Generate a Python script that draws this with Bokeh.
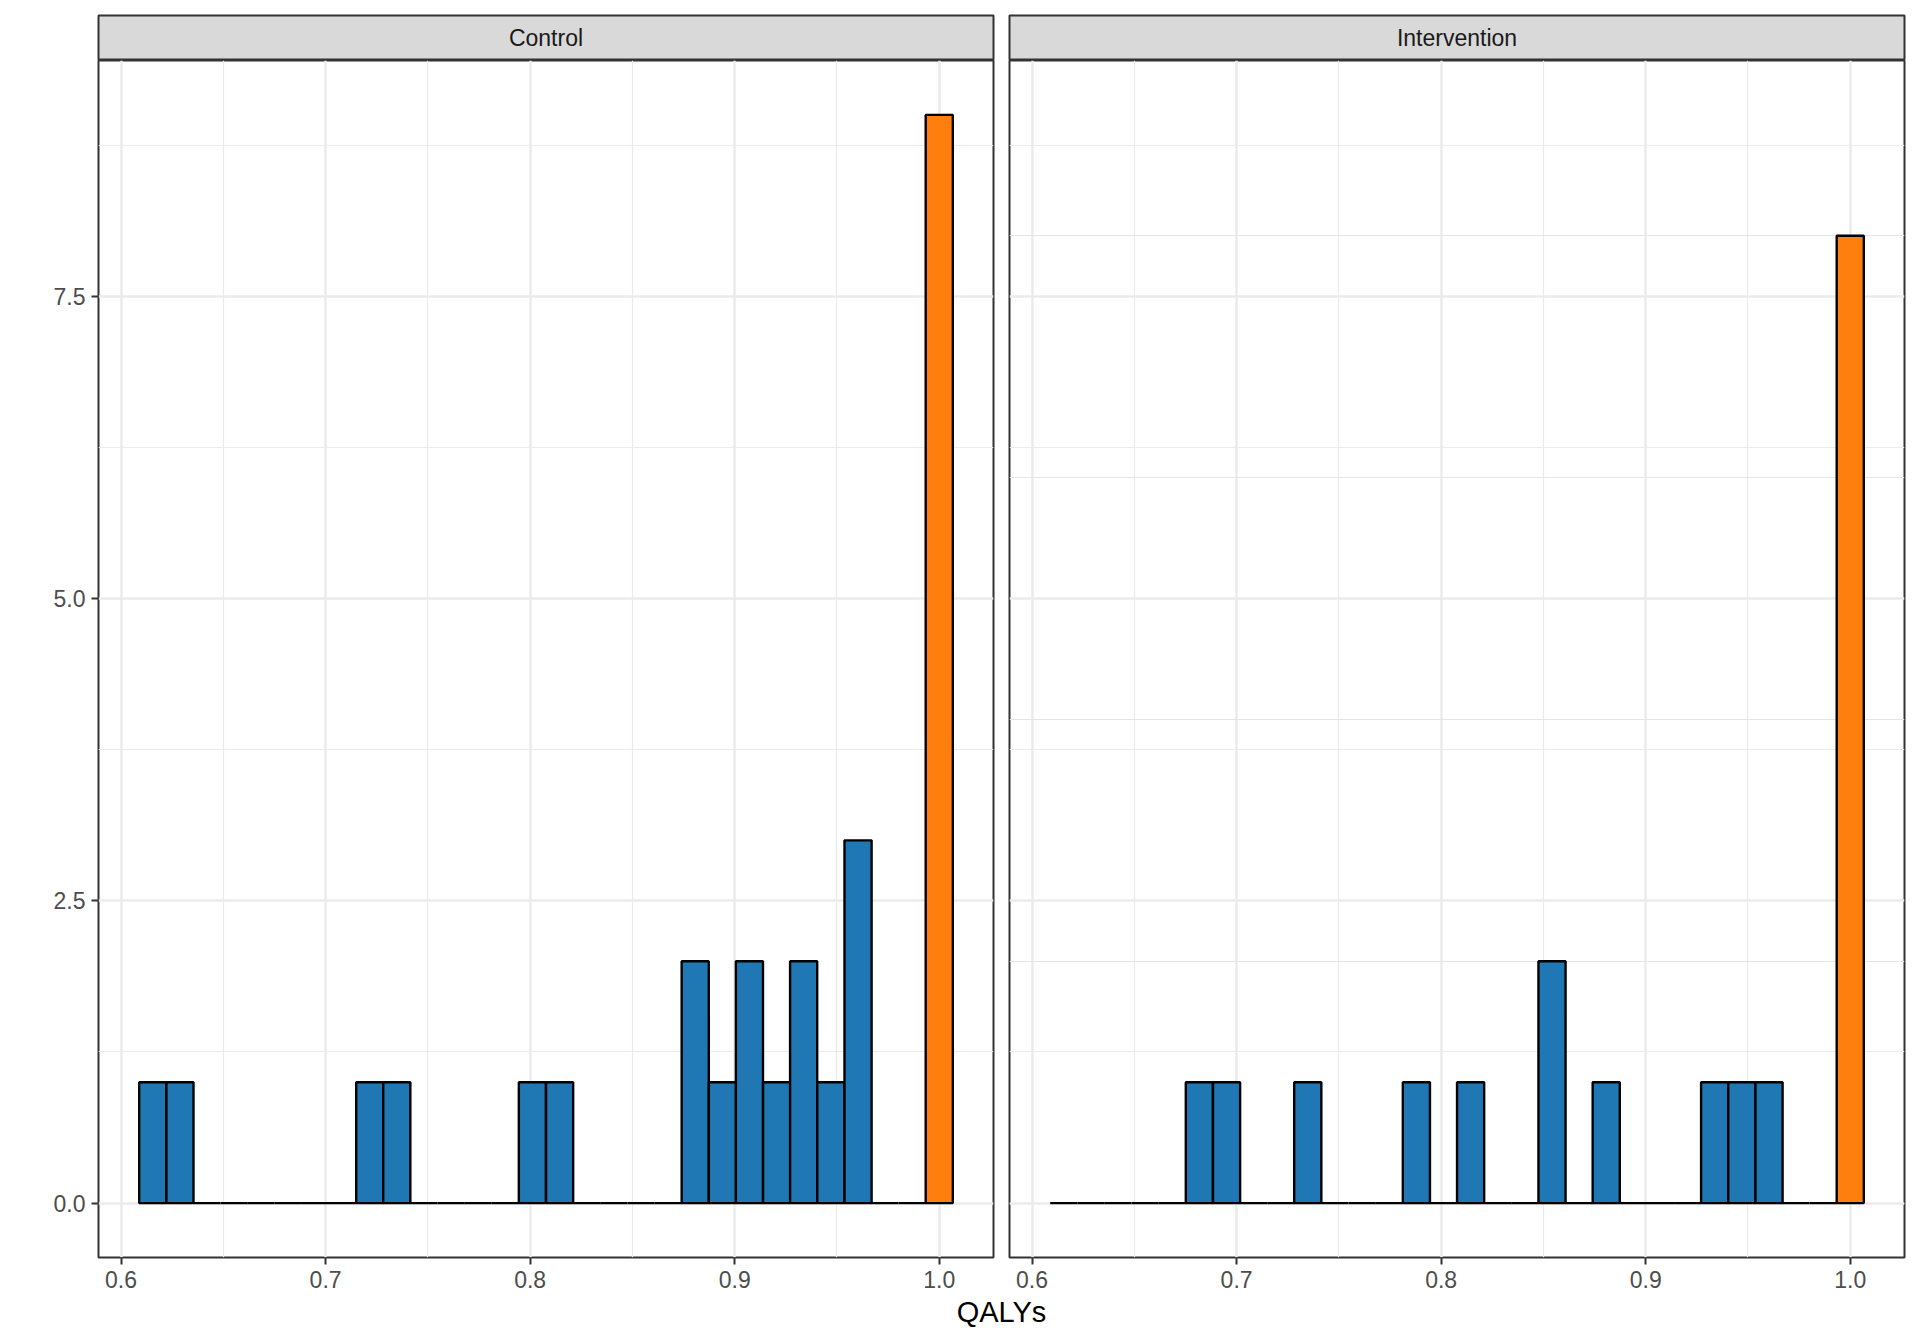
from bokeh.plotting import figure
from bokeh.layouts import column, row
from bokeh.models import (Range1d, FixedTicker, PrintfTickFormatter, Label, Grid,
                          ColumnDataSource)
from bokeh.transform import factor_cmap
from bokeh.embed import file_html
from bokeh.resources import INLINE

# ---- data ----
bin_centers = [0.6155, 0.6288, 0.6420, 0.6553, 0.6685, 0.6818, 0.6951, 0.7083,
               0.7216, 0.7348, 0.7481, 0.7614, 0.7746, 0.7879, 0.8011, 0.8144,
               0.8277, 0.8409, 0.8542, 0.8674, 0.8807, 0.8940, 0.9072, 0.9205,
               0.9337, 0.9470, 0.9603, 0.9735, 0.9868, 1.0000]
bin_width = 0.013259
control_counts = [1, 1, 0, 0, 0, 0, 0, 0, 1, 1, 0, 0, 0, 0, 1, 1, 0, 0, 0, 0,
                  2, 1, 2, 1, 2, 1, 3, 0, 0, 9]
intervention_counts = [0, 0, 0, 0, 0, 1, 1, 0, 0, 1, 0, 0, 0, 1, 0, 1, 0, 0, 2, 0,
                       1, 0, 0, 0, 1, 1, 1, 0, 0, 8]
panel_names = ["Control", "Intervention"]
status_factors = ["Below 1", "Full health"]
bar_palette = ["#1F77B4", "#FF7F0E"]
x_ticks = [0.6, 0.7, 0.8, 0.9, 1.0]
x_minor = [0.65, 0.75, 0.85, 0.95]
y_ticks = [0.0, 2.5, 5.0, 7.5]
y_minor = [1.25, 3.75, 6.25, 8.75]
x_title = "QALYs"

FONT = "Liberation Sans"
GRID = "#EBEBEB"
DARK = "#333333"

# scale limits: histogram range + 5% expansion (ggplot style)
lo = bin_centers[0] - bin_width / 2
hi = bin_centers[-1] + bin_width / 2
pad = (hi - lo) * 0.05
x_lo, x_hi = lo - pad, hi + pad
y_max = max(max(control_counts), max(intervention_counts))
y_lo, y_hi = -0.05 * y_max, y_max * 1.05

FRAME_W = 895
LEFT = 98     # left border of the first column
GAP = 8       # half of the gap between panels
RIGHT = 14    # right border of the last column


def make_panel(counts, first):
    p = figure(x_range=Range1d(x_lo, x_hi), y_range=Range1d(y_lo, y_hi),
               frame_width=FRAME_W, frame_height=1197,
               min_border_left=LEFT if first else GAP,
               min_border_right=GAP if first else RIGHT,
               min_border_top=0, min_border_bottom=36,
               output_backend="svg", toolbar_location=None,
               x_axis_location="below", y_axis_location="left" if first else None,
               background_fill_color="white", border_fill_color="white",
               outline_line_color=DARK, outline_line_width=2)
    src = ColumnDataSource(dict(
        left=[c - bin_width / 2 for c in bin_centers],
        right=[c + bin_width / 2 for c in bin_centers],
        top=counts,
        status=[status_factors[1] if c >= 1.0 else status_factors[0] for c in bin_centers],
    ))
    p.quad(left="left", right="right", bottom=0, top="top", source=src,
           fill_color=factor_cmap("status", palette=bar_palette, factors=status_factors),
           line_color="black", line_width=2.4)

    axes = list(p.xaxis) + (list(p.yaxis) if first else [])
    for ax in axes:
        ax.axis_line_color = None
        ax.major_tick_line_color = DARK
        ax.major_tick_line_width = 2
        ax.major_tick_out = 7
        ax.major_tick_in = 0
        ax.minor_tick_line_color = None
        ax.major_label_text_font = FONT
        ax.major_label_text_font_size = "23px"
        ax.major_label_text_color = "#4D4D4D"
        ax.formatter = PrintfTickFormatter(format="%.1f")
    p.xaxis.ticker = FixedTicker(ticks=x_ticks, minor_ticks=x_minor)
    p.xaxis.major_label_standoff = 6
    p.xgrid.grid_line_color = GRID
    p.xgrid.grid_line_width = 2.5
    p.xgrid.minor_grid_line_color = GRID
    p.xgrid.minor_grid_line_width = 1.2
    if first:
        p.yaxis.ticker = FixedTicker(ticks=y_ticks, minor_ticks=y_minor)
        p.yaxis.major_label_standoff = 6
        yg = list(p.ygrid)
    else:
        g = Grid(dimension=1, ticker=FixedTicker(ticks=y_ticks, minor_ticks=y_minor))
        p.add_layout(g)
        yg = [g]
    for g in yg:
        g.grid_line_color = GRID
        g.grid_line_width = 2.5
        g.minor_grid_line_color = GRID
        g.minor_grid_line_width = 1.2
    return p


def make_strip(name, first):
    s = figure(x_range=Range1d(0, 1), y_range=Range1d(0, 1),
               frame_width=FRAME_W, frame_height=45,
               min_border_left=LEFT if first else GAP,
               min_border_right=GAP if first else RIGHT,
               min_border_top=15, min_border_bottom=0,
               output_backend="svg", toolbar_location=None,
               x_axis_location=None, y_axis_location=None,
               background_fill_color="#D9D9D9", border_fill_color="white",
               outline_line_color=DARK, outline_line_width=2)
    for g in s.grid:
        g.visible = False
    s.add_layout(Label(x=0.5, y=0.5, text=name, text_align="center",
                       text_baseline="middle", text_font=FONT,
                       text_font_size="23px", text_color="#1A1A1A"))
    return s


strip1 = make_strip(panel_names[0], True)
strip2 = make_strip(panel_names[1], False)
p1 = make_panel(control_counts, True)
p2 = make_panel(intervention_counts, False)

XLAB_H = 48
xlab = figure(x_range=Range1d(0, 1), y_range=Range1d(0, XLAB_H),
              frame_width=FRAME_W * 2 + 2 * GAP, frame_height=XLAB_H,
              min_border_left=LEFT, min_border_right=RIGHT,
              min_border_top=0, min_border_bottom=0,
              output_backend="svg", toolbar_location=None,
              x_axis_location=None, y_axis_location=None,
              outline_line_color=None, border_fill_color="white")
for g in xlab.grid:
    g.visible = False
xlab.add_layout(Label(x=0.5, y=30, text=x_title,
                      text_align="center", text_baseline="middle",
                      text_font=FONT, text_font_size="29px", text_color="black"))

layout = column(row(strip1, strip2), row(p1, p2), xlab)

with open("out.html", "w") as f:
    f.write(file_html(layout, INLINE))
